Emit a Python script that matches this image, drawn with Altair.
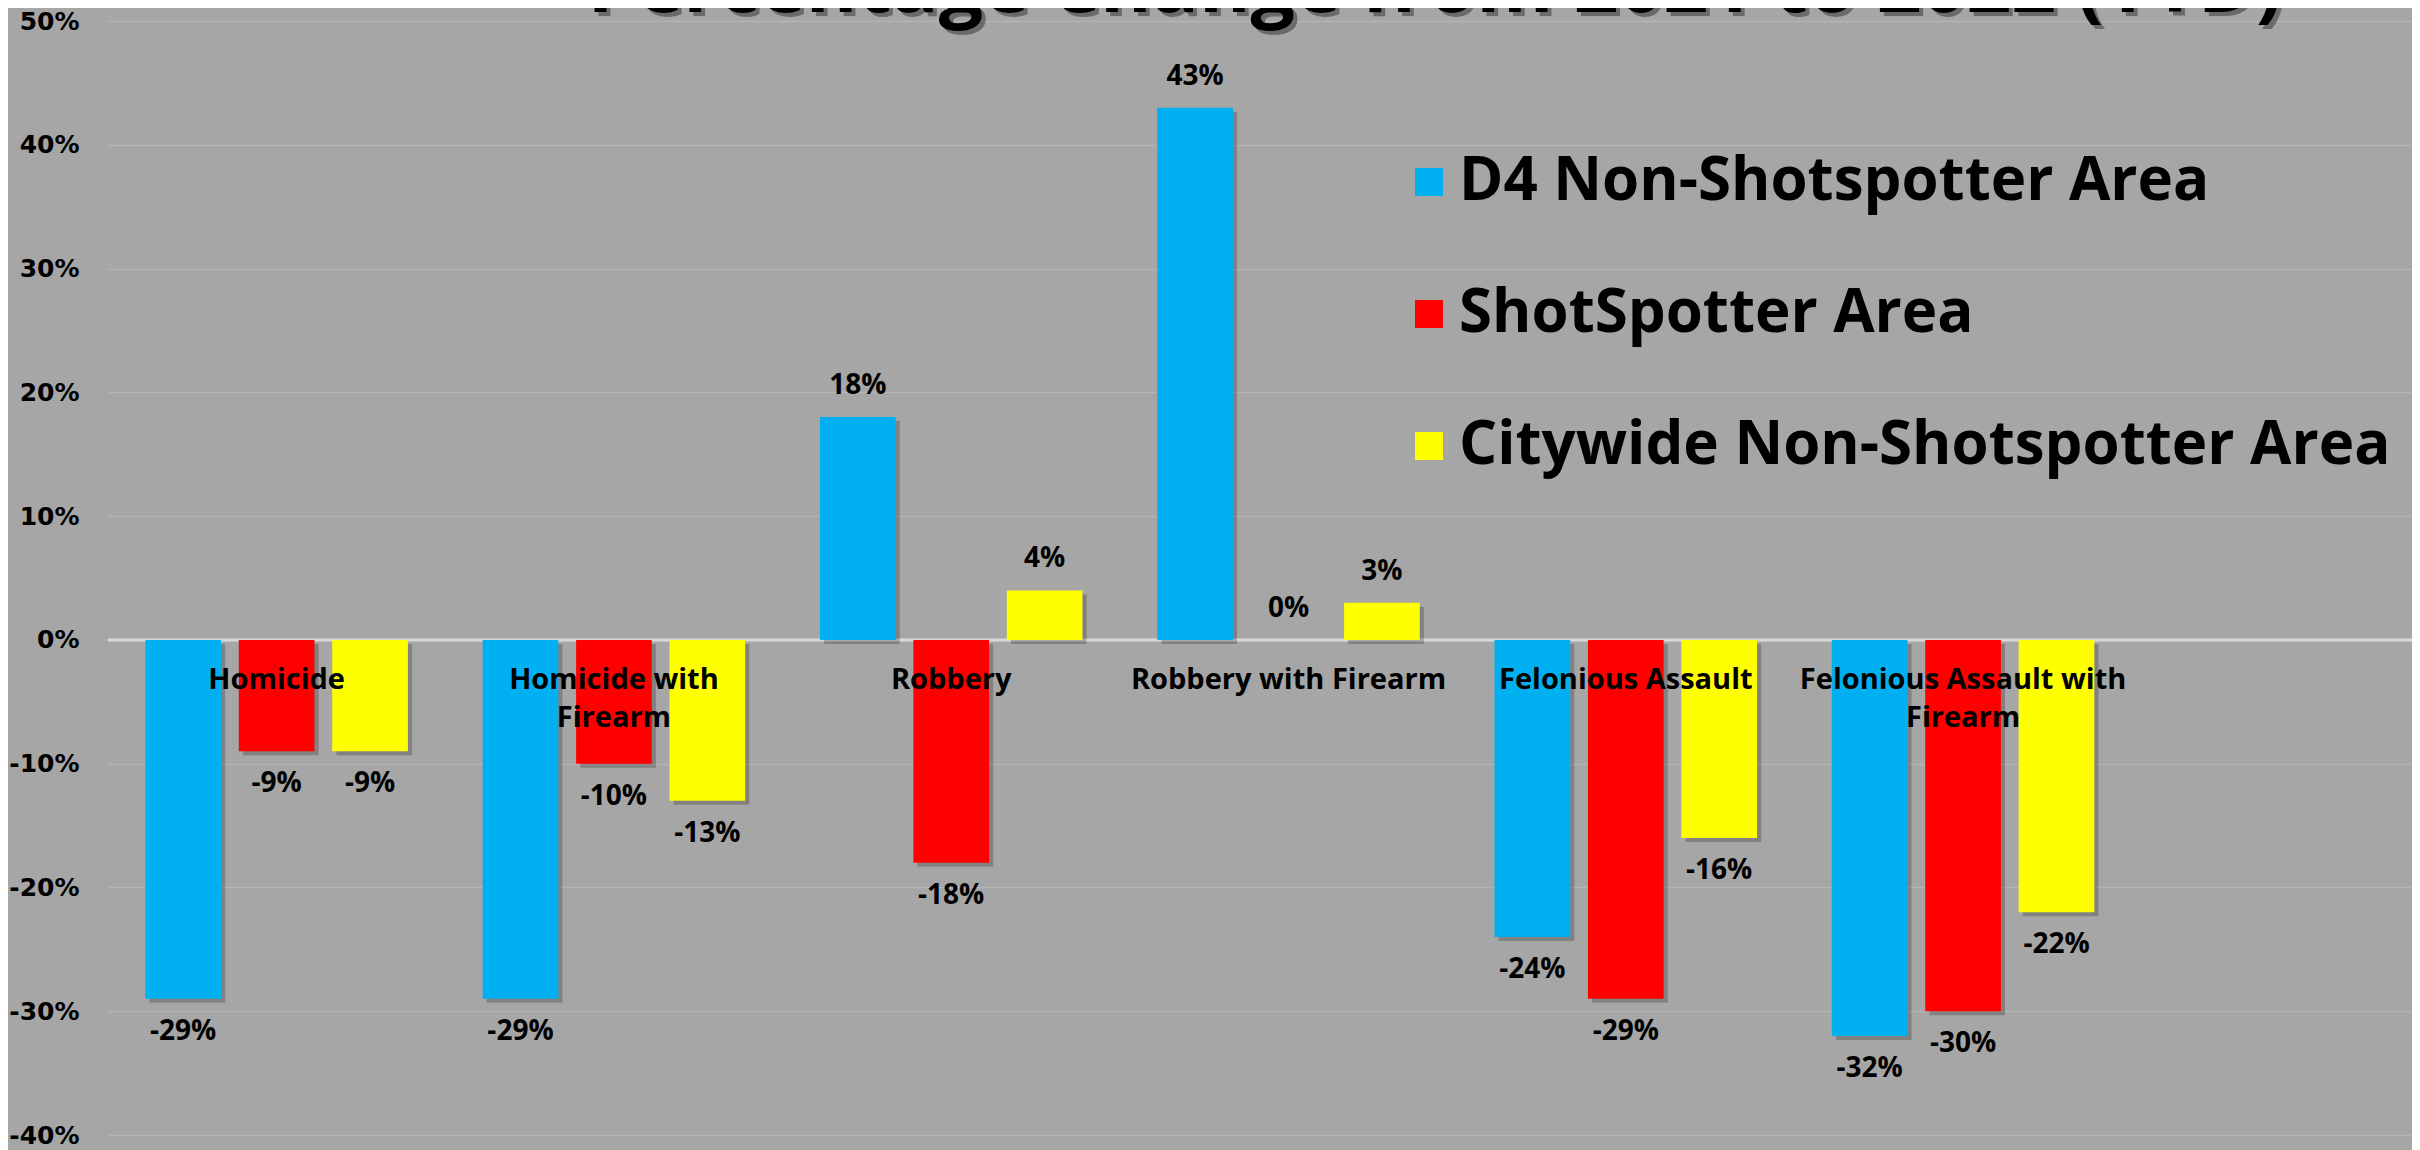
import altair as alt
import pandas as pd

categories = ["Homicide", "Homicide with Firearm", "Robbery", "Robbery with Firearm",
              "Felonious Assault", "Felonious Assault with Firearm"]
category_labels = ["Homicide", "Homicide with\nFirearm", "Robbery", "Robbery with Firearm",
                   "Felonious Assault", "Felonious Assault with\nFirearm"]
series = ["D4 Non-Shotspotter Area", "ShotSpotter Area", "Citywide Non-Shotspotter Area"]
series_colors = ["#00b0f0", "#ff0000", "#ffff00"]
d4_values = [-29, -29, 18, 43, -24, -32]
shotspotter_values = [-9, -10, -18, 0, -29, -30]
citywide_values = [-9, -13, 4, 3, -16, -22]
y_ticks = [-40, -30, -20, -10, 0, 10, 20, 30, 40, 50]
title_text = "Percentage Change from 2021 to 2022 (YTD)"

rows = []
for s, vals in zip(series, [d4_values, shotspotter_values, citywide_values]):
    for c, v in zip(categories, vals):
        rows.append({"category": c, "series": s, "value": v, "label": f"{v}%"})
df = pd.DataFrame(rows)
cat_df = pd.DataFrame({"category": categories, "catlabel": category_labels,
                       "value": [0] * len(categories)})
zero_df = pd.DataFrame({"value": [0]})
title_df = pd.DataFrame({"title": [title_text]})

FONT = "Open Sans"

x_enc = alt.X("category:N", sort=categories,
              scale=alt.Scale(domain=categories, paddingInner=0, paddingOuter=0.4155, align=0),
              axis=None)
xo_enc = alt.XOffset("series:N", sort=series,
                     scale=alt.Scale(domain=series, paddingInner=0.19, paddingOuter=0.40))
# same sub-band layout, nudged a few pixels right for the drop shadow
xo_shadow = alt.XOffset("series:N", sort=series,
                        scale=alt.Scale(domain=series, paddingInner=0.19, paddingOuter=0.40,
                                        align=0.555))
y_enc = alt.Y("value:Q",
              scale=alt.Scale(domain=[-40, 50], nice=False, zero=False),
              axis=alt.Axis(values=y_ticks, labelExpr="datum.value + '%'", title=None,
                            grid=True, gridColor="#b4b4b4", gridWidth=1.5,
                            domain=False, ticks=False,
                            labelFont="DejaVu Sans", labelFontWeight="bold",
                            labelFontSize=25, labelColor="black", labelPadding=29))

zero_line = alt.Chart(zero_df).mark_rule(color="#d9d9d9", strokeWidth=3).encode(y=y_enc)

shadows = alt.Chart(df).mark_bar(strokeWidth=0, color="#000000", opacity=0.22,
                                 yOffset=4).encode(
    x=x_enc, xOffset=xo_shadow, y=y_enc)

bars = alt.Chart(df).mark_bar(strokeWidth=0).encode(
    x=x_enc, xOffset=xo_enc, y=y_enc,
    color=alt.Color("series:N", sort=series,
                    scale=alt.Scale(domain=series, range=series_colors),
                    legend=alt.Legend(orient="none", legendX=1291, legendY=131, title=None,
                                      symbolType="square", symbolSize=784,
                                      symbolStrokeWidth=0, symbolOpacity=1,
                                      labelFont=FONT, labelFontWeight="bold",
                                      labelFontSize=60, labelColor="black",
                                      labelOffset=0, rowPadding=72, padding=0,
                                      labelLimit=0)),
)

pos_labels = alt.Chart(df).transform_filter("datum.value >= 0").mark_text(
    font=FONT, fontWeight="bold", fontSize=28, color="black", baseline="middle", dy=-31
).encode(x=x_enc, xOffset=xo_enc, y=y_enc, text="label:N")

neg_labels = alt.Chart(df).transform_filter("datum.value < 0").mark_text(
    font=FONT, fontWeight="bold", fontSize=28, color="black", baseline="middle", dy=33
).encode(x=x_enc, xOffset=xo_enc, y=y_enc, text="label:N")

cat_text = alt.Chart(cat_df).mark_text(
    font=FONT, fontWeight="bold", fontSize=29, color="black", baseline="top",
    align="center", dy=26, lineBreak="\n", lineHeight=38
).encode(x=x_enc, y=y_enc, text="catlabel:N")

title_shadow = alt.Chart(title_df).mark_text(
    font=FONT, fontWeight="bold", fontSize=78.5, color="#3a3a3a", opacity=0.55,
    baseline="alphabetic", align="center", dx=4, dy=4
).encode(x=alt.value(1327), y=alt.value(-9), text="title:N")

title_mark = alt.Chart(title_df).mark_text(
    font=FONT, fontWeight="bold", fontSize=78.5, color="black",
    baseline="alphabetic", align="center"
).encode(x=alt.value(1327), y=alt.value(-9), text="title:N")

back = alt.layer(zero_line, shadows)
front = alt.layer(bars, pos_labels, neg_labels, cat_text, title_shadow, title_mark)

chart = alt.layer(back, front).resolve_scale(
    xOffset="independent"
).properties(
    width=2304, height=1114,
    background="#a6a6a6",
    padding={"left": 100, "top": 13, "right": 0, "bottom": 15},
    autosize=alt.AutoSizeParams(type="none"),
).configure_view(stroke=None)

chart.save("out.html", embed_options={"renderer": "svg", "actions": False})
